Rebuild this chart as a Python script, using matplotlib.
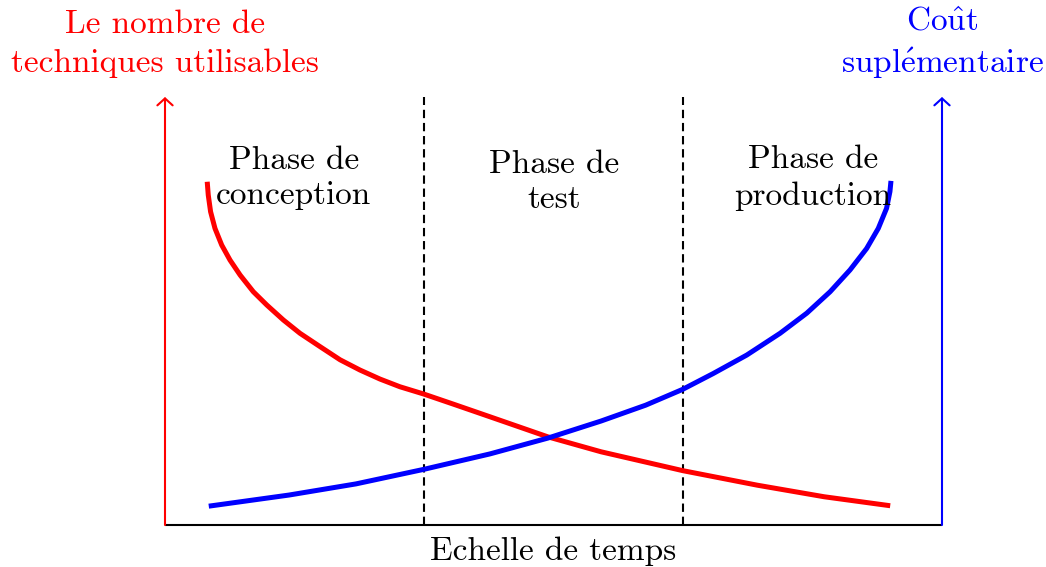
import matplotlib
matplotlib.use("Agg")
import matplotlib.pyplot as plt

# ---- data (time measured in phases 0..3, value 0..1) ----
red_t = [0.163, 0.167, 0.176, 0.193, 0.219, 0.251, 0.290, 0.341, 0.393, 0.457,
         0.521, 0.598, 0.676, 0.753, 0.830, 0.907, 0.999, 1.120, 1.254, 1.478,
         1.684, 1.999, 2.287, 2.545, 2.800]
red_v = [0.802, 0.771, 0.732, 0.693, 0.654, 0.619, 0.584, 0.545, 0.514, 0.479,
         0.448, 0.417, 0.386, 0.362, 0.341, 0.323, 0.306, 0.281, 0.253, 0.206,
         0.171, 0.127, 0.093, 0.066, 0.045]

blue_t = [0.169, 0.479, 0.737, 0.999, 1.254, 1.478, 1.684, 1.856, 1.999, 2.117,
          2.246, 2.375, 2.478, 2.568, 2.645, 2.709, 2.754, 2.786, 2.799, 2.803]
blue_v = [0.044, 0.070, 0.096, 0.130, 0.166, 0.203, 0.243, 0.280, 0.317, 0.354,
          0.397, 0.448, 0.495, 0.545, 0.596, 0.646, 0.693, 0.740, 0.779, 0.804]

phase_bounds = [1, 2]
phase_labels = ["Phase de\nconception", "Phase de\ntest", "Phase de\nproduction"]
left_label = "Le nombre de\ntechniques utilisables"
right_label = "Co$\\hat{\\mathrm{u}}$t\nsupl$\\acute{\\mathrm{e}}$mentaire"
x_label = "Echelle de temps"

plt.rcParams['font.family'] = ['cmr10', 'DejaVu Serif']
plt.rcParams['mathtext.fontset'] = 'cm'
plt.rcParams['axes.formatter.use_mathtext'] = True

fig = plt.figure(figsize=(10.46, 5.67), dpi=100)
ax = fig.add_axes([0, 0, 1, 1])
ax.set_xlim(-165 / 259, (1046 - 165) / 259)
ax.set_ylim((525 - 567) / 428, 525 / 428)
ax.axis('off')

FS = 24

# baseline
ax.plot([0, 3], [0, 0], color='black', lw=1.5, solid_capstyle='butt')
# dashed phase separators
for b in phase_bounds:
    ax.plot([b, b], [0, 1], color='black', lw=1.5, linestyle=(0, (4, 2.3)))
# axes arrows
for x, c in [(0, 'red'), (3, 'blue')]:
    ax.annotate('', xy=(x, 1.0), xytext=(x, 0),
                arrowprops=dict(arrowstyle='->,head_length=0.5,head_width=0.55',
                                color=c, lw=1.5, shrinkA=0, shrinkB=0))

# curves
ax.plot(red_t, red_v, color='red', lw=3.6, solid_capstyle='butt', solid_joinstyle='round')
ax.plot(blue_t, blue_v, color='blue', lw=3.6, solid_capstyle='butt', solid_joinstyle='round')

# texts
ax.text(0, (525 - 44) / 428, left_label, color='red', fontsize=FS, ha='center', va='center',
        multialignment='center', linespacing=1.38)
ax.text(3, (525 - 44) / 428, right_label, color='blue', fontsize=FS, ha='center', va='center',
        multialignment='center', linespacing=1.38)
ax.text(1.5, (525 - 551) / 428, x_label, fontsize=FS, ha='center', va='center')

pos_y = [(525 - 178) / 428, (525 - 182) / 428, (525 - 178) / 428]
pos_x = [(294 - 165) / 259, (554 - 165) / 259, (813 - 165) / 259]
for x, y, lab in zip(pos_x, pos_y, phase_labels):
    ax.text(x, y, lab, fontsize=FS, ha='center', va='center', multialignment='center',
            linespacing=1.29)

fig.savefig('out.png', dpi=100)
